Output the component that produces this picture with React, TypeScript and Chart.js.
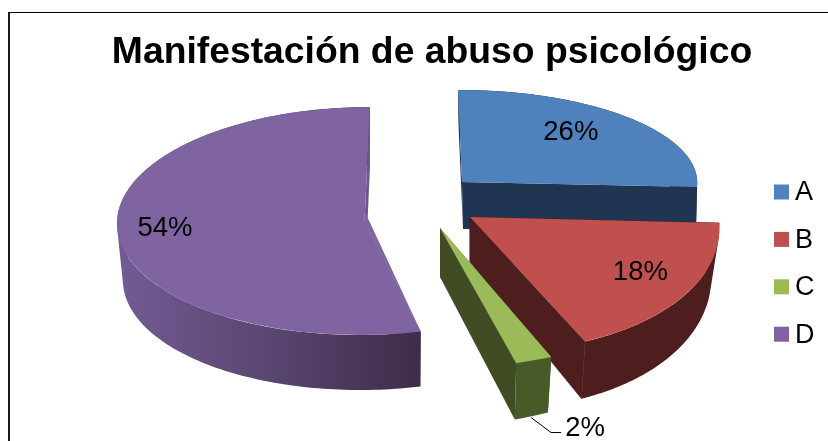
import React, { useEffect, useRef } from "react";
import { Chart, registerables } from "chart.js";

Chart.register(...registerables);

const categories = ["A", "B", "C", "D"];
const shares = [26, 18, 2, 54];
const titleText = "Manifestación de abuso psicológico";
const faceColors = ["#4F81BD", "#C0504D", "#9BBB59", "#8064A2"];

const FONT = "'Liberation Sans', Arial, sans-serif";

// Projection of the unit disc for every slice: [cx, cy, Ux, Uy, Vx, Vy]
const topProjection = [
  [462, 182, 235.2, -0.8, 4, 92],
  [470, 217, 248, -2.5, 25.6, 135],
  [440, 228, 294.6, -5.6, 3, 141],
  [364.5, 221, 247.5, 0, -5.5, 114],
];
const bottomProjection = [
  [463, 229, 233, -1, 4, 92],
  [470, 262, 240, 0, 25, 147],
  [440, 277, 279, -11, 5.6, 150],
  [365, 278, 242, 0, -5, 112],
];
const apexOverride: (null | number[])[] = [null, null, null, [365, 212]];
const labelFactor = [
  [0.645, 0.78],
  [0.79, 0.72],
  [1.545, 1.515],
  [0.81, 0.5],
];
const wallColors = ["#1F3552", "#4E1E1E", "#3F4C24", "#6C578C"];
const drawOrder = [0, 3, 1, 2];

const proj = (p: number[], u: number, v: number, k = 1): [number, number] => [
  p[0] + k * (p[2] * u + p[4] * v),
  p[1] + k * (p[3] * u + p[5] * v),
];

const pie3d = {
  id: "pie3d",
  beforeDraw(chart: any) {
    const { ctx } = chart;
    ctx.save();
    ctx.fillStyle = "#ffffff";
    ctx.fillRect(0, 0, chart.width, chart.height);
    ctx.fillStyle = "#1a1a1a";
    ctx.fillRect(8, 12, 2, chart.height - 12);
    ctx.fillStyle = "#000000";
    ctx.fillRect(8, 12, chart.width - 8, 1);
    ctx.restore();
  },
  beforeDatasetsDraw(chart: any) {
    const { ctx } = chart;
    const arcs = chart.getDatasetMeta(0).data;
    for (const i of drawOrder) {
      const el = arcs[i];
      const t = topProjection[i];
      const b = bottomProjection[i];
      const a0 = el.startAngle;
      const a1 = el.endAngle;
      const ap = apexOverride[i] || [t[0], t[1]];
      const uv = (a: number): [number, number] => [Math.cos(a), Math.sin(a)];
      const T = (a: number) => proj(t, ...uv(a));
      const B = (a: number) => proj(b, ...uv(a));
      const radialWall = (a: number) => {
        ctx.fillStyle = wallColors[i];
        ctx.strokeStyle = wallColors[i];
        ctx.lineWidth = 0.7;
        ctx.beginPath();
        ctx.moveTo(t[0], t[1]);
        ctx.lineTo(...T(a));
        ctx.lineTo(...B(a));
        ctx.lineTo(b[0], b[1]);
        ctx.closePath();
        ctx.fill();
        if (i === 1) ctx.stroke();
      };
      ctx.save();
      radialWall(a0);
      // outer wall: union of small quads, all wound the same way
      const steps = 160;
      ctx.beginPath();
      for (let s = 0; s < steps; s++) {
        const p0 = a0 + ((a1 - a0) * s) / steps;
        const p1 = a0 + ((a1 - a0) * (s + 1)) / steps;
        const q = [T(p0), T(p1), B(p1), B(p0)];
        let area = 0;
        q.forEach((pt, n) => {
          const nx = q[(n + 1) % 4];
          area += pt[0] * nx[1] - nx[0] * pt[1];
        });
        if (area < 0) q.reverse();
        ctx.moveTo(q[0][0], q[0][1]);
        ctx.lineTo(q[1][0], q[1][1]);
        ctx.lineTo(q[2][0], q[2][1]);
        ctx.lineTo(q[3][0], q[3][1]);
        ctx.closePath();
      }
      if (i === 3) {
        const g = ctx.createLinearGradient(120, 0, 421, 0);
        g.addColorStop(0, "#725A93");
        g.addColorStop(0.5, "#594670");
        g.addColorStop(1, "#3D2C4A");
        ctx.fillStyle = g;
      } else if (i === 2) {
        ctx.fillStyle = "#475A27";
      } else {
        ctx.fillStyle = wallColors[i];
      }
      ctx.fill();
      radialWall(a1);
      // top face: the library's own arc element, projected
      ctx.save();
      const R = el.outerRadius;
      ctx.transform(t[2] / R, t[3] / R, t[4] / R, t[5] / R, t[0], t[1]);
      ctx.translate(-el.x, -el.y);
      el.draw(ctx);
      ctx.restore();
      if (apexOverride[i]) {
        ctx.fillStyle = faceColors[i];
        ctx.beginPath();
        ctx.moveTo(ap[0], ap[1]);
        ctx.lineTo(...T(a0));
        ctx.lineTo(t[0], t[1]);
        ctx.closePath();
        ctx.fill();
      }
      ctx.restore();
    }
    return false;
  },
  afterDraw(chart: any) {
    const { ctx } = chart;
    const arcs = chart.getDatasetMeta(0).data;
    const values: number[] = chart.data.datasets[0].data;
    const total = values.reduce((s, v) => s + v, 0);
    ctx.save();
    ctx.fillStyle = "#000000";
    ctx.textBaseline = "middle";
    ctx.textAlign = "center";
    ctx.font = `27.5px ${FONT}`;
    values.forEach((v, i) => {
      const el = arcs[i];
      const mid = (el.startAngle + el.endAngle) / 2;
      const t = topProjection[i];
      const [u, v2] = [Math.cos(mid), Math.sin(mid)];
      const x = t[0] + labelFactor[i][0] * (t[2] * u + t[4] * v2);
      const y = t[1] + labelFactor[i][1] * (t[3] * u + t[5] * v2);
      ctx.fillText(`${Math.round((v / total) * 100)}%`, x, y);
      if (v / total < 0.05) {
        ctx.strokeStyle = "#000000";
        ctx.lineWidth = 1;
        ctx.beginPath();
        ctx.moveTo(x - 54, y - 11);
        ctx.lineTo(x - 34, y + 4);
        ctx.lineTo(x - 24, y + 4);
        ctx.stroke();
      }
    });
    // legend
    ctx.textAlign = "left";
    ctx.font = `27px ${FONT}`;
    categories.forEach((c, i) => {
      const cy = 192 + i * 47.4;
      ctx.fillStyle = faceColors[i];
      ctx.fillRect(774, cy - 7.5, 15, 15);
      ctx.fillStyle = "#000000";
      ctx.fillText(c, 795, cy + 1);
    });
    ctx.restore();
  },
};

export default function App() {
  const ref = useRef<HTMLCanvasElement>(null);
  useEffect(() => {
    document.body.style.margin = "0";
    const chart = new Chart(ref.current as HTMLCanvasElement, {
      type: "pie",
      data: {
        labels: categories,
        datasets: [
          {
            data: shares,
            backgroundColor: faceColors,
            borderWidth: 0,
          },
        ],
      },
      options: {
        responsive: false,
        animation: false,
        layout: { padding: { left: 36 } },
        plugins: {
          legend: { display: false },
          tooltip: { enabled: false },
          title: {
            display: true,
            text: titleText,
            color: "#000000",
            font: { family: FONT, size: 37.3, weight: "bold" },
            padding: { top: 30, bottom: 8 },
          },
        },
      },
      plugins: [pie3d],
    } as any);
    return () => chart.destroy();
  }, []);
  return (
    <div style={{ position: "absolute", left: 0, top: 0, width: 828, height: 441 }}>
      <canvas ref={ref} width={828} height={441} style={{ display: "block" }} />
    </div>
  );
}
